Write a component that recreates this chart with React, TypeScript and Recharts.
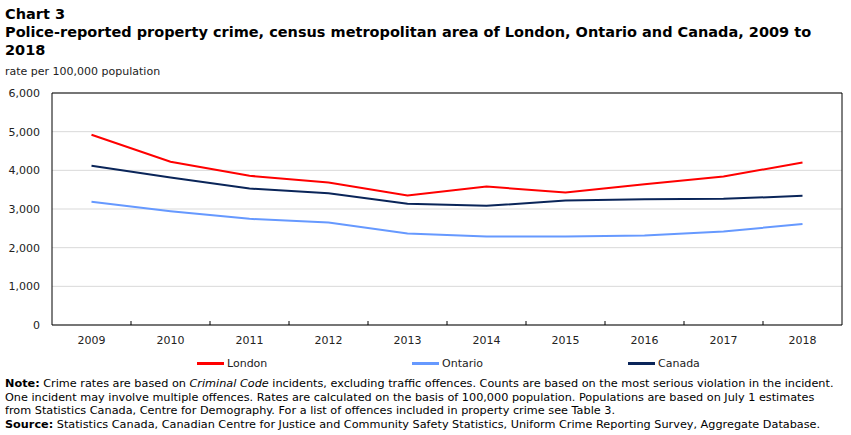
import { CartesianGrid, Legend, Line, LineChart, XAxis, YAxis } from "recharts";

const YEARS = ["2009", "2010", "2011", "2012", "2013", "2014", "2015", "2016", "2017", "2018"];
const LONDON = [4922, 4221, 3858, 3685, 3348, 3581, 3426, 3643, 3840, 4203];
const ONTARIO = [3187, 2944, 2745, 2649, 2364, 2287, 2287, 2313, 2416, 2615];
const CANADA = [4119, 3815, 3530, 3410, 3133, 3081, 3219, 3254, 3262, 3340];
const Y_TICKS = [0, 1000, 2000, 3000, 4000, 5000, 6000];

const SERIES = [
  { key: "London", color: "#ff0000" },
  { key: "Ontario", color: "#6699ff" },
  { key: "Canada", color: "#0a2559" },
];

const data = YEARS.map((year, i) => ({
  year,
  London: LONDON[i],
  Ontario: ONTARIO[i],
  Canada: CANADA[i],
}));

const FONT = "'DejaVu Sans', Verdana, sans-serif";
const LEGEND_X = [197, 412, 628];
const TICK_SIZE = 6;
const TICK_MARGIN = 5;

// year label plus a short inward tick at the left edge of each band
const YearTick = (props: any) => {
  const { x, y, payload, index } = props;
  const half = payload?.offset ?? 0;
  const axisY = y - TICK_SIZE - TICK_MARGIN;
  return (
    <g>
      {index > 0 && (
        <line x1={x - half} x2={x - half} y1={axisY} y2={axisY - 4} stroke="#000" />
      )}
      <text x={x} y={y} dy="0.71em" textAnchor="middle" fill="#222" fontSize={11} fontFamily={FONT}>
        {payload.value}
      </text>
    </g>
  );
};

const LegendRow = () => (
  <div style={{ position: "relative", height: 20, width: 851 }}>
    {SERIES.map((s, i) => (
      <div
        key={s.key}
        style={{
          position: "absolute",
          left: LEGEND_X[i],
          top: 2,
          display: "flex",
          alignItems: "center",
          fontFamily: FONT,
          fontSize: 11,
          color: "#222",
        }}
      >
        <span style={{ display: "inline-block", width: 27, height: 3, background: s.color, marginRight: 3 }} />
        {s.key}
      </div>
    ))}
  </div>
);

const App = () => {
  return (
    <div style={{ position: "absolute", top: 0, left: 0, width: 851, height: 435, background: "#fff", fontFamily: FONT }}>
      <LineChart
        width={851}
        height={435}
        data={data}
        margin={{ top: 93, right: 9, left: 0, bottom: 60 }}
      >
        <CartesianGrid vertical={false} stroke="#d9d9d9" />
        {/* frame: top and right edges of the plot */}
        <CartesianGrid
          stroke="#000"
          horizontalCoordinatesGenerator={({ offset }: any) => [offset.top]}
          verticalCoordinatesGenerator={({ offset }: any) => [offset.left + offset.width]}
        />
        <XAxis
          dataKey="year"
          scale="band"
          height={30}
          tickLine={false}
          tickSize={TICK_SIZE}
          tickMargin={TICK_MARGIN}
          axisLine={{ stroke: "#000" }}
          tick={<YearTick />}
        />
        <YAxis
          domain={[0, 6000]}
          ticks={Y_TICKS}
          width={52}
          tickLine={false}
          tickMargin={6}
          axisLine={{ stroke: "#000" }}
          tick={{ fill: "#222", fontSize: 11, fontFamily: FONT }}
          tickFormatter={(v: number) => v.toLocaleString("en-US")}
        />
        <Legend verticalAlign="bottom" content={() => <LegendRow />} />
        {SERIES.map((s) => (
          <Line
            key={s.key}
            type="linear"
            dataKey={s.key}
            stroke={s.color}
            strokeWidth={2}
            dot={false}
            isAnimationActive={false}
          />
        ))}
      </LineChart>

      <div style={{ position: "absolute", left: 5, top: 5, width: 846, color: "#000", whiteSpace: "nowrap" }}>
        <div style={{ fontSize: 14.5, fontWeight: "bold", lineHeight: "19px" }}>Chart 3</div>
        <div style={{ fontSize: 14.5, fontWeight: "bold", lineHeight: "17.5px" }}>
          Police-reported property crime, census metropolitan area of London, Ontario and Canada, 2009 to
          <br />
          2018
        </div>
        <div style={{ fontSize: 11, marginTop: 6, color: "#222" }}>rate per 100,000 population</div>
      </div>

      <div
        style={{
          position: "absolute",
          left: 5,
          top: 377,
          width: 846,
          fontSize: 11.25,
          lineHeight: "13.5px",
          color: "#000",
          whiteSpace: "nowrap",
        }}
      >
        <div>
          <b>Note:</b> Crime rates are based on <i>Criminal Code</i> incidents, excluding traffic offences. Counts are based on the most serious violation in the incident.
        </div>
        <div>
          One incident may involve multiple offences. Rates are calculated on the basis of 100,000 population. Populations are based on July 1 estimates
        </div>
        <div>from Statistics Canada, Centre for Demography. For a list of offences included in property crime see Table 3.</div>
        <div>
          <b>Source:</b> Statistics Canada, Canadian Centre for Justice and Community Safety Statistics, Uniform Crime Reporting Survey, Aggregate Database.
        </div>
      </div>
    </div>
  );
};

export default App;
